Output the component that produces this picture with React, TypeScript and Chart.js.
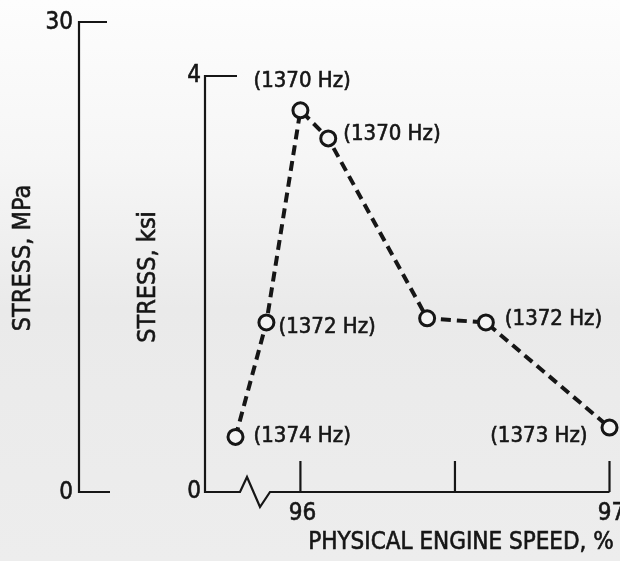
import { useEffect, useRef } from "react";
import { Chart, registerables } from "chart.js";

Chart.register(...registerables);

// ---- data ----
const speedPct = [95.79, 95.89, 96.0, 96.09, 96.41, 96.6, 97.0];
const stressKsi = [0.53, 1.63, 3.67, 3.4, 1.67, 1.63, 0.62];
const freqLabels = ["(1374 Hz)", "(1372 Hz)", "(1370 Hz)", "(1370 Hz)", "", "(1372 Hz)", "(1373 Hz)"];
const ksiTicks = [0, 4];
const ksiTickLabels = ["0", "4"];
const mpaTicks = [0, 30];
const mpaTickLabels = ["0", "30"];
const speedTicks = [96, 96.5, 97];
const speedTickLabels = ["96", "", "97"];
const xTitle = "PHYSICAL ENGINE SPEED, %";
const ksiTitle = "STRESS, ksi";
const mpaTitle = "STRESS, MPa";

// ---- style ----
const FONT = "'DejaVu Sans Condensed', 'DejaVu Sans', sans-serif";
const INK = "#161616";
const labelOffsets: ([number, number, CanvasTextAlign] | null)[] = [
  [18, -1, "left"],
  [12, 5, "left"],
  [-47, -29, "left"],
  [15, -4, "left"],
  null,
  [19, -3, "left"],
  [-22, 9, "right"],
];

function inkText(ctx: CanvasRenderingContext2D, s: string, x: number, y: number) {
  ctx.fillText(s, x, y);
  ctx.strokeText(s, x, y);
}

const decorPlugin = {
  id: "decor",
  beforeDraw(chart: any) {
    const { ctx, width, height } = chart;
    const g = ctx.createLinearGradient(0, 0, 0, height);
    g.addColorStop(0, "#fdfdfd");
    g.addColorStop(0.28, "#f6f6f6");
    g.addColorStop(0.55, "#eaeaea");
    g.addColorStop(1, "#ededed");
    ctx.save();
    ctx.fillStyle = g;
    ctx.fillRect(0, 0, width, height);
    ctx.restore();
  },
  beforeDatasetsDraw(chart: any) {
    const { ctx, scales } = chart;
    const x = scales.x;
    const y = scales.y;
    const ym = scales.yMPa;
    ctx.save();
    ctx.strokeStyle = INK;
    ctx.fillStyle = INK;
    ctx.lineWidth = 2.2;
    ctx.lineJoin = "miter";

    // MPa axis bracket
    const mx = 79;
    const m0 = ym.getPixelForValue(mpaTicks[0]);
    const m1 = ym.getPixelForValue(mpaTicks[1]);
    ctx.beginPath();
    ctx.moveTo(mx + 28, m1);
    ctx.lineTo(mx, m1);
    ctx.lineTo(mx, m0);
    ctx.lineTo(mx + 31, m0);
    ctx.stroke();

    // ksi axis + x axis with break
    const kx = x.left;
    const k0 = y.getPixelForValue(ksiTicks[0]);
    const k4 = y.getPixelForValue(ksiTicks[1]);
    ctx.beginPath();
    ctx.moveTo(kx + 32, k4);
    ctx.lineTo(kx, k4);
    ctx.lineTo(kx, k0);
    ctx.lineTo(kx + 35, k0);
    ctx.lineTo(kx + 42, k0 - 15);
    ctx.lineTo(kx + 55, k0 + 15);
    ctx.lineTo(kx + 65, k0);
    ctx.lineTo(x.getPixelForValue(speedTicks[speedTicks.length - 1]), k0);
    ctx.stroke();

    // x ticks
    speedTicks.forEach((v) => {
      const px = x.getPixelForValue(v);
      ctx.beginPath();
      ctx.moveTo(px, k0);
      ctx.lineTo(px, k0 - 31);
      ctx.stroke();
    });

    // tick labels
    ctx.lineWidth = 0.6;
    ctx.font = `24px ${FONT}`;
    ctx.textBaseline = "middle";
    ctx.textAlign = "right";
    mpaTicks.forEach((v, i) => inkText(ctx, mpaTickLabels[i], mx - 6, ym.getPixelForValue(v) + 1));
    ksiTicks.forEach((v, i) => inkText(ctx, ksiTickLabels[i], kx - 4, y.getPixelForValue(v)));
    ctx.textAlign = "center";
    speedTicks.forEach((v, i) => {
      if (speedTickLabels[i]) inkText(ctx, speedTickLabels[i], x.getPixelForValue(v) + 2, k0 + 22);
    });

    // titles
    ctx.font = `24px ${FONT}`;
    inkText(ctx, xTitle, 461, 543);
    ctx.font = `25px ${FONT}`;
    ctx.save();
    ctx.translate(23, 258);
    ctx.rotate(-Math.PI / 2);
    inkText(ctx, mpaTitle, 0, 0);
    ctx.restore();
    ctx.save();
    ctx.translate(148, 277);
    ctx.rotate(-Math.PI / 2);
    inkText(ctx, ksiTitle, 0, 0);
    ctx.restore();

    ctx.restore();
  },
  afterDatasetsDraw(chart: any) {
    const { ctx } = chart;
    const meta = chart.getDatasetMeta(0);
    ctx.save();
    ctx.fillStyle = INK;
    ctx.strokeStyle = INK;
    ctx.lineWidth = 0.6;
    ctx.font = `22px ${FONT}`;
    ctx.textBaseline = "middle";
    meta.data.forEach((pt: any, i: number) => {
      const off = labelOffsets[i];
      if (!off || !freqLabels[i]) return;
      ctx.textAlign = off[2];
      inkText(ctx, freqLabels[i], pt.x + off[0], pt.y + off[1]);
    });
    ctx.restore();
  },
};

export default function App() {
  const ref = useRef<HTMLCanvasElement | null>(null);
  useEffect(() => {
    if (!ref.current) return;
    const chart = new Chart(ref.current, {
      type: "line",
      data: {
        datasets: [
          {
            data: speedPct.map((s, i) => ({ x: s, y: stressKsi[i] })),
            xAxisID: "x",
            yAxisID: "y",
            borderColor: INK,
            borderWidth: 4,
            borderDash: [10, 6],
            pointRadius: 7.5,
            pointBorderWidth: 3,
            pointBorderColor: INK,
            pointBackgroundColor: "#f4f4f4",
            tension: 0,
            clip: false as any,
          },
        ],
      },
      options: {
        responsive: false,
        devicePixelRatio: 1,
        animation: false,
        layout: { padding: { left: 205, right: 8, top: 22, bottom: 69 } },
        plugins: { legend: { display: false }, tooltip: { enabled: false } },
        scales: {
          x: { type: "linear", min: 95.6913, max: 97, display: false },
          y: { type: "linear", min: 0, max: 4.519, display: false },
          yMPa: { type: "linear", position: "left", min: 0, max: 30, display: false },
        },
      },
      plugins: [decorPlugin],
    });
    return () => chart.destroy();
  }, []);
  return (
    <div style={{ position: "absolute", left: 0, top: 0, width: 620, height: 561 }}>
      <canvas ref={ref} width={620} height={561} style={{ display: "block" }} />
    </div>
  );
}
